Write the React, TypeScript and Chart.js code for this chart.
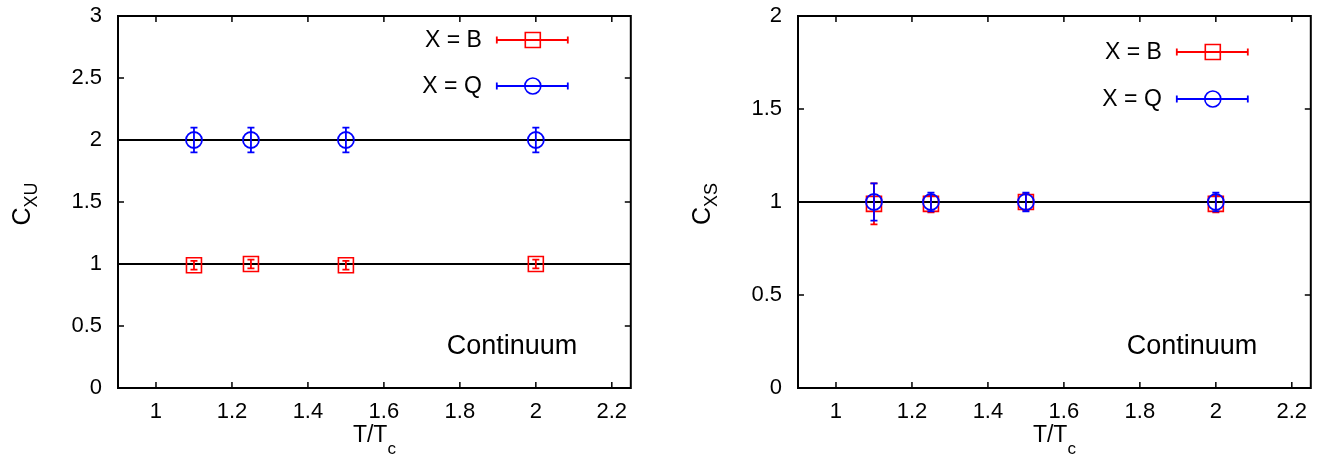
import React, { useEffect, useRef } from "react";
import { Chart, registerables } from "chart.js";
Chart.register(...registerables);

// ---------- data ----------
const temperatures = [1.1, 1.25, 1.5, 2.0];
const xTicks = [1, 1.2, 1.4, 1.6, 1.8, 2, 2.2];
const xRange = [0.9, 2.25];

const leftYTicks = [0, 0.5, 1, 1.5, 2, 2.5, 3];
const rightYTicks = [0, 0.5, 1, 1.5, 2];

const cBU = [0.99, 1.0, 0.99, 1.0];
const cBUErr = [0.035, 0.035, 0.035, 0.035];
const cQU = [2.0, 2.0, 2.0, 2.0];
const cQUErr = [0.1, 0.1, 0.1, 0.1];

const cBS = [0.99, 0.99, 1.0, 0.99];
const cBSErr = [0.11, 0.045, 0.045, 0.045];
const cQS = [1.0, 1.0, 1.0, 1.0];
const cQSErr = [0.1, 0.05, 0.05, 0.05];

const leftRefLines = [1, 2];
const rightRefLines = [1];

const seriesLabels = ["X = B", "X = Q"];
const panelNote = "Continuum";

const FONT = "'Liberation Sans', Arial, Helvetica, sans-serif";
const RED = "#ff0000";
const BLUE = "#0000ff";

type PanelCfg = {
  yTicks: number[];
  yLabelSub: string;
  refLines: number[];
  b: number[];
  bErr: number[];
  q: number[];
  qErr: number[];
  legendRows: number[];
};

const leftPanel: PanelCfg = {
  yTicks: leftYTicks,
  yLabelSub: "XU",
  refLines: leftRefLines,
  b: cBU,
  bErr: cBUErr,
  q: cQU,
  qErr: cQUErr,
  legendRows: [24, 70],
};

const rightPanel: PanelCfg = {
  yTicks: rightYTicks,
  yLabelSub: "XS",
  refLines: rightRefLines,
  b: cBS,
  bErr: cBSErr,
  q: cQS,
  qErr: cQSErr,
  legendRows: [36, 83],
};

function drawMarker(ctx: CanvasRenderingContext2D, style: string, x: number, y: number, color: string) {
  ctx.save();
  ctx.strokeStyle = color;
  ctx.lineWidth = 1.6;
  ctx.beginPath();
  if (style === "rect") {
    ctx.rect(x - 7.5, y - 7.5, 15, 15);
  } else {
    ctx.arc(x, y, 8, 0, Math.PI * 2);
  }
  ctx.stroke();
  ctx.restore();
}

const decorPlugin = {
  id: "panelDecor",
  afterDatasetDraw(chart: any, args: any) {
    const ds = chart.data.datasets[args.index];
    if (!ds.errors) return;
    const ctx = chart.ctx;
    const ys = chart.scales.y;
    const meta = args.meta;
    ctx.save();
    ctx.beginPath();
    ctx.rect(chart.chartArea.left, chart.chartArea.top, chart.chartArea.width, chart.chartArea.height);
    ctx.clip();
    ctx.strokeStyle = ds.borderColor;
    ctx.lineWidth = 1.8;
    meta.data.forEach((pt: any, i: number) => {
      const v = ds.data[i].y;
      const e = ds.errors[i];
      const y1 = ys.getPixelForValue(v - e);
      const y2 = ys.getPixelForValue(v + e);
      ctx.beginPath();
      ctx.moveTo(pt.x, y1);
      ctx.lineTo(pt.x, y2);
      ctx.moveTo(pt.x - 3.5, y1);
      ctx.lineTo(pt.x + 3.5, y1);
      ctx.moveTo(pt.x - 3.5, y2);
      ctx.lineTo(pt.x + 3.5, y2);
      ctx.stroke();
    });
    ctx.restore();
  },
  afterDraw(chart: any, _args: any, opts: any) {
    const ctx: CanvasRenderingContext2D = chart.ctx;
    const { left, right, top, bottom } = chart.chartArea;
    const xs = chart.scales.x;
    const ys = chart.scales.y;
    ctx.save();
    // inward ticks
    ctx.strokeStyle = "#000";
    ctx.lineWidth = 1.5;
    ctx.beginPath();
    xs.ticks.forEach((t: any) => {
      const px = xs.getPixelForValue(t.value);
      ctx.moveTo(px, bottom);
      ctx.lineTo(px, bottom - 6);
      ctx.moveTo(px, top);
      ctx.lineTo(px, top + 6);
    });
    ys.ticks.forEach((t: any) => {
      const py = ys.getPixelForValue(t.value);
      ctx.moveTo(left, py);
      ctx.lineTo(left + 6, py);
      ctx.moveTo(right, py);
      ctx.lineTo(right - 6, py);
    });
    ctx.stroke();
    // frame
    ctx.lineWidth = 2;
    ctx.strokeRect(left, top, right - left, bottom - top);

    // legend
    const series = chart.data.datasets.filter((d: any) => d.errors);
    series.forEach((d: any, i: number) => {
      const y = top + opts.legendRows[i];
      ctx.fillStyle = "#000";
      ctx.font = `23px ${FONT}`;
      ctx.textAlign = "right";
      ctx.textBaseline = "middle";
      ctx.fillText(d.label, right - 149, y + 1);
      const x1 = right - 134;
      const x2 = right - 63;
      ctx.strokeStyle = d.borderColor;
      ctx.lineWidth = 1.8;
      ctx.beginPath();
      ctx.moveTo(x1, y);
      ctx.lineTo(x2, y);
      ctx.moveTo(x1, y - 3.5);
      ctx.lineTo(x1, y + 3.5);
      ctx.moveTo(x2, y - 3.5);
      ctx.lineTo(x2, y + 3.5);
      ctx.stroke();
      drawMarker(ctx, d.pointStyle, right - 98, y, d.borderColor);
    });

    // note
    ctx.fillStyle = "#000";
    ctx.font = `27px ${FONT}`;
    ctx.textAlign = "center";
    ctx.textBaseline = "alphabetic";
    ctx.fillText(panelNote, left + 394, 354);

    // x title T/T_c
    const cx = (left + right) / 2;
    ctx.font = `23px ${FONT}`;
    const mainX = "T/T";
    const w1 = ctx.measureText(mainX).width;
    ctx.font = `17px ${FONT}`;
    const w2 = ctx.measureText("c").width;
    const sx = cx - (w1 + w2) / 2;
    ctx.textAlign = "left";
    ctx.font = `23px ${FONT}`;
    ctx.fillText(mainX, sx, 442);
    ctx.font = `17px ${FONT}`;
    ctx.fillText("c", sx + w1, 454);

    // y title C_sub
    ctx.save();
    ctx.translate(30, (top + bottom) / 2 + 2);
    ctx.rotate(-Math.PI / 2);
    ctx.font = `25px ${FONT}`;
    const wc = ctx.measureText("C").width;
    ctx.font = `18px ${FONT}`;
    const ws = ctx.measureText(opts.sub).width;
    const st = -(wc + ws) / 2;
    ctx.font = `25px ${FONT}`;
    ctx.fillText("C", st, 0);
    ctx.font = `18px ${FONT}`;
    ctx.fillText(opts.sub, st + wc, 7);
    ctx.restore();

    ctx.restore();
  },
};

function Panel({ cfg, left }: { cfg: PanelCfg; left: number }) {
  const ref = useRef<HTMLCanvasElement | null>(null);
  useEffect(() => {
    if (!ref.current) return;
    const refDatasets = cfg.refLines.map((v) => ({
      type: "line" as const,
      label: "ref",
      data: [
        { x: xRange[0], y: v },
        { x: xRange[1], y: v },
      ],
      borderColor: "#000",
      borderWidth: 2,
      pointRadius: 0,
      order: 5,
    }));
    const chart = new Chart(ref.current, {
      type: "scatter",
      data: {
        datasets: [
          ...refDatasets,
          {
            label: seriesLabels[0],
            data: temperatures.map((t, i) => ({ x: t, y: cfg.b[i] })),
            errors: cfg.bErr,
            pointStyle: "rect",
            pointRadius: 10.6,
            borderColor: RED,
            backgroundColor: "rgba(0,0,0,0)",
            borderWidth: 1.6,
            order: 2,
          } as any,
          {
            label: seriesLabels[1],
            data: temperatures.map((t, i) => ({ x: t, y: cfg.q[i] })),
            errors: cfg.qErr,
            pointStyle: "circle",
            pointRadius: 8,
            borderColor: BLUE,
            backgroundColor: "rgba(0,0,0,0)",
            borderWidth: 1.8,
            order: 1,
          } as any,
        ],
      },
      options: {
        animation: false,
        responsive: false,
        devicePixelRatio: 1,
        layout: { padding: { top: 16, right: 11, left: 0, bottom: 0 } },
        plugins: {
          legend: { display: false },
          tooltip: { enabled: false },
          panelDecor: { legendRows: cfg.legendRows, sub: cfg.yLabelSub },
        } as any,
        scales: {
          x: {
            type: "linear",
            min: xRange[0],
            max: xRange[1],
            afterBuildTicks: (s: any) => {
              s.ticks = xTicks.map((v) => ({ value: v }));
            },
            afterFit: (s: any) => {
              s.height = 69;
              s.paddingLeft = 0;
              s.paddingRight = 0;
              s.paddingTop = 0;
              s.paddingBottom = 0;
            },
            grid: { display: false, drawTicks: false },
            border: { display: false },
            ticks: {
              color: "#000",
              font: { family: FONT, size: 22 },
              padding: 11,
              maxRotation: 0,
              autoSkip: false,
              callback: (v: any) => String(v),
            },
          },
          y: {
            type: "linear",
            min: cfg.yTicks[0],
            max: cfg.yTicks[cfg.yTicks.length - 1],
            afterBuildTicks: (s: any) => {
              s.ticks = cfg.yTicks.map((v) => ({ value: v }));
            },
            afterFit: (s: any) => {
              s.width = 118;
              s.paddingLeft = 0;
              s.paddingRight = 0;
              s.paddingTop = 0;
              s.paddingBottom = 0;
            },
            grid: { display: false, drawTicks: false },
            border: { display: false },
            ticks: {
              color: "#000",
              font: { family: FONT, size: 22 },
              padding: 16,
              autoSkip: false,
              callback: (v: any) => String(v),
            },
          },
        },
      },
      plugins: [decorPlugin],
    });
    return () => chart.destroy();
  }, [cfg]);
  return (
    <canvas
      ref={ref}
      width={643}
      height={457}
      style={{ position: "absolute", left, top: 0, width: 643, height: 457, display: "block" }}
    />
  );
}

export default function App() {
  return (
    <div style={{ position: "fixed", left: 0, top: 0, width: 1323, height: 457, background: "#fff", overflow: "hidden" }}>
      <Panel cfg={leftPanel} left={0} />
      <Panel cfg={rightPanel} left={680} />
    </div>
  );
}
